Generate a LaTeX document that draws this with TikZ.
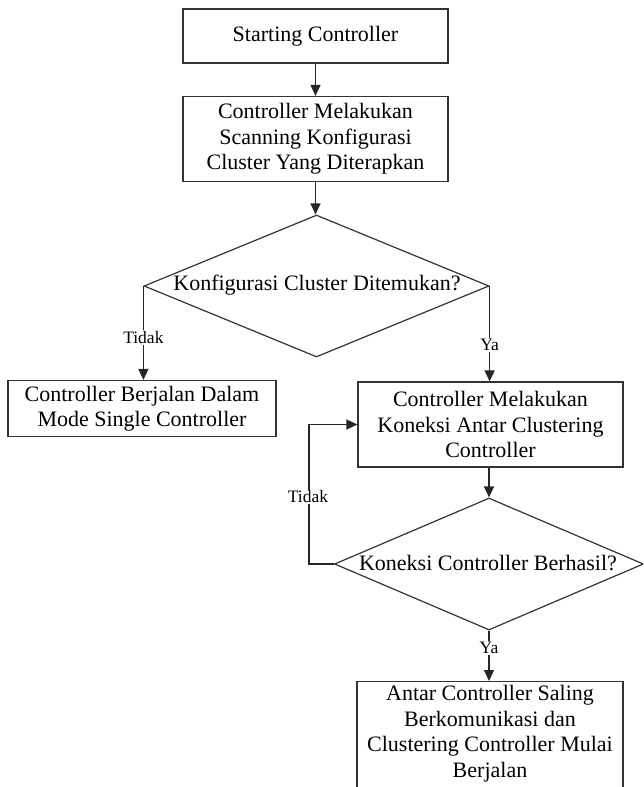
\documentclass[tikz,border=0pt]{standalone}
\usepackage{fontspec}
\setmainfont{Liberation Serif}
\usetikzlibrary{shapes.geometric,arrows.meta}
\begin{document}
\begin{tikzpicture}[x=1pt,y=-1pt,
  every node/.style={font=\fontsize{22}{25.5}\selectfont},
  box/.style={draw=black!80,line width=1.2pt,rectangle,inner sep=0pt,align=center},
  dia/.style={draw=black!80,line width=1.2pt,diamond,inner sep=0pt},
  lbl/.style={fill=white,inner sep=1pt,font=\fontsize{17.5}{20}\selectfont},
  conn/.style={draw=black!85,line width=1.2pt},
  arr/.style={conn,-{Triangle[length=11pt,width=10pt]}}]
\useasboundingbox (0,0) rectangle (643,787);
\clip (0,0) rectangle (643,787);
\node[box,minimum width=265,minimum height=54] (b1) at (315.5,36) {Starting Controller};
\node[box,minimum width=265,minimum height=85] (b2) at (315.5,139) {Controller Melakukan\\Scanning Konfigurasi\\Cluster Yang Diterapkan};
\node[dia,minimum width=345,minimum height=142] (d1) at (316.5,286) {};
\node (t1) at (317,285) {Konfigurasi Cluster Ditemukan?};
\node[box,minimum width=268,minimum height=56] (b3) at (142,408.5) {Controller Berjalan Dalam\\Mode Single Controller};
\node[box,minimum width=265,minimum height=85] (b4) at (490.5,424.5) {Controller Melakukan\\Koneksi Antar Clustering\\Controller};
\node[dia,minimum width=309,minimum height=132] (d2) at (489,564) {};
\node (t2) at (488,563) {Koneksi Controller Berhasil?};
\node[box,minimum width=266,minimum height=130,anchor=north] (b5) at (490,681) {};
\node[align=center,anchor=north] (t5) at (490,682) {Antar Controller Saling\\Berkomunikasi dan\\Clustering Controller Mulai\\Berjalan};
\draw[arr] (b1.south) -- (b2.north);
\draw[arr] (b2.south) -- (b2.south |- d1.north);
\draw[arr] (d1.west) -- (d1.west |- b3.north) node[lbl,pos=0.55] (l1) {Tidak};
\draw[arr] (d1.east) -- (d1.east |- b4.north) node[lbl,pos=0.62] (l2) {Ya};
\draw[arr] (d2.north |- b4.south) -- (d2.north);
\draw[arr] (d2.west) -- ++(-25,0) coordinate (c1) |- (b4.west);
\node[lbl] (l3) at (308,497) {Tidak};
\draw[arr] (d2.south) -- (d2.south |- b5.north) node[lbl,pos=0.35] (l4) {Ya};
\end{tikzpicture}
\end{document}
